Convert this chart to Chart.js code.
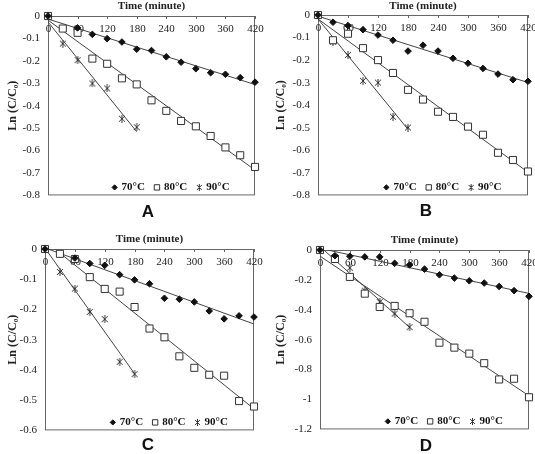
<!DOCTYPE html>
<html>
<head>
<meta charset="utf-8">
<script src="https://cdn.jsdelivr.net/npm/chart.js@4.4.1/dist/chart.umd.min.js"></script>
<style>
  body { margin: 0; background: #fff; width: 535px; height: 454px; position: relative; overflow: hidden; }
  canvas { position: absolute; }
  .tag { position: absolute; width: 40px; text-align: center; line-height: 20px;
         font: bold 17px 'Liberation Sans', Arial, sans-serif; color: #111; }
</style>
</head>
<body>
<canvas id="pA"></canvas>
<canvas id="pB"></canvas>
<canvas id="pC"></canvas>
<canvas id="pD"></canvas>
<script>
// sampling times (minutes)
const minutes = [0, 30, 60, 90, 120, 150, 180, 210, 240, 270, 300, 330, 360, 390, 420];
const minutes90 = [0, 30, 60, 90, 120, 150, 180];
const xTicks = [0, 60, 120, 180, 240, 300, 360, 420];
const seriesNames = ["70°C", "80°C", "90°C"];
const panelNames = ["A", "B", "C", "D"];
const yMins = [-0.8, -0.8, -0.6, -1.2];
const ySteps = [0.1, 0.1, 0.1, 0.2];

// Ln(C/C0)
const a70 = [0, null, -0.053, -0.082, -0.101, -0.116, -0.148, -0.154, -0.182, -0.206, -0.235, -0.253, -0.26, -0.275, -0.295];
const a80 = [0, -0.056, -0.075, -0.19, -0.213, -0.278, -0.305, -0.376, -0.423, -0.468, -0.492, -0.535, -0.586, -0.621, -0.673];
const a90 = [0, -0.123, -0.197, -0.301, -0.323, -0.458, -0.496];

const b70 = [0, -0.032, -0.047, -0.065, -0.089, -0.112, -0.16, -0.134, -0.16, -0.192, -0.214, -0.237, -0.262, -0.287, -0.294];
const b80 = [0, -0.112, -0.083, -0.147, -0.2, -0.257, -0.332, -0.375, -0.429, -0.452, -0.495, -0.531, -0.611, -0.643, -0.694];
const b90 = [0, -0.118, -0.177, -0.292, -0.3, -0.451, -0.499];

const c70 = [0, null, -0.03, -0.048, -0.054, -0.085, -0.102, -0.115, -0.163, -0.166, -0.175, -0.205, -0.231, -0.221, -0.225];
const c80 = [0, -0.016, -0.033, -0.093, -0.132, -0.141, -0.192, -0.263, -0.292, -0.355, -0.393, -0.416, -0.419, -0.503, -0.521];
const c90 = [0, -0.076, -0.131, -0.208, -0.232, -0.373, -0.414];

const d70 = [0, -0.038, -0.042, -0.046, -0.046, -0.089, -0.1, -0.128, -0.166, -0.188, -0.206, -0.221, -0.244, -0.272, -0.31];
const d80 = [0, -0.06, -0.18, -0.292, -0.381, -0.374, -0.423, -0.48, -0.62, -0.653, -0.693, -0.757, -0.866, -0.861, -0.985];
const d90 = [0, -0.05, -0.119, -0.272, -0.348, -0.425, -0.516];

const panelData = [[a70, a80, a90], [b70, b80, b90], [c70, c80, c90], [d70, d80, d90]];
const panelTimes = [minutes, minutes, minutes90];

// where each panel sits on the page (canvas box + plot area inside it)
const boxes = [
  { left: 0,   top: 0,   w: 267, h: 210, area: [48, 16, 255, 197], tag: [148, 212] },
  { left: 268, top: 0,   w: 267, h: 210, area: [50, 15, 260, 198], tag: [426, 211] },
  { left: 0,   top: 233, w: 267, h: 212, area: [45, 16, 254, 200], tag: [148, 445] },
  { left: 268, top: 234, w: 267, h: 210, area: [52, 16, 261, 197], tag: [426, 446] }
];

Chart.defaults.font.family = "'Liberation Serif', 'Times New Roman', serif";
Chart.defaults.color = "#222";

function starMark(size) {
  const c = document.createElement("canvas");
  c.width = c.height = size;
  const g = c.getContext("2d");
  g.strokeStyle = "#333";
  g.lineWidth = 1;
  g.beginPath();
  g.moveTo(1, 1); g.lineTo(size - 1, size - 1);
  g.moveTo(size - 1, 1); g.lineTo(1, size - 1);
  g.moveTo(size / 2, 0); g.lineTo(size / 2, size);
  g.stroke();
  return c;
}

const marks = [
  { pointStyle: "rectRot", radius: 3.3, bg: "#111", border: "#111" },
  { pointStyle: "rect", radius: 5, bg: "#fff", border: "#333" },
  { pointStyle: starMark(8), radius: 4, bg: "#333", border: "#333" }
];
const legendMarks = [
  { pointStyle: "rectRot", radius: 2.6, bg: "#111", border: "#111" },
  { pointStyle: "rect", radius: 3.8, bg: "#fff", border: "#333" },
  { pointStyle: starMark(7), radius: 3.5, bg: "#333", border: "#333" }
];

// least squares line, like the spreadsheet trendline
function fit(xs, ys) {
  let n = 0, sx = 0, sy = 0, sxx = 0, sxy = 0;
  xs.forEach((x, i) => {
    const y = ys[i];
    if (y === null) return;
    n++; sx += x; sy += y; sxx += x * x; sxy += x * y;
  });
  const m = (n * sxy - sx * sy) / (n * sxx - sx * sx);
  return { m: m, b: (sy - m * sx) / n };
}

const frame = {
  id: "frame",
  beforeDatasetsDraw(chart) {
    const { ctx, chartArea: a, scales } = chart;
    ctx.save();
    ctx.strokeStyle = "#666";
    ctx.lineWidth = 1;
    ctx.strokeRect(a.left + 0.5, a.top + 0.5, a.width - 1, a.height - 1);
    // time labels sit just under the top axis line
    ctx.font = "11px 'Liberation Serif'";
    ctx.fillStyle = "#222";
    ctx.textAlign = "center";
    ctx.textBaseline = "middle";
    xTicks.forEach(v => {
      const px = Math.round(scales.x.getPixelForValue(v)) + 0.5;
      ctx.beginPath();
      ctx.moveTo(px, a.top);
      ctx.lineTo(px, a.top + 3);
      ctx.stroke();
      ctx.fillText(String(v), px, a.top + 13);
    });
    ctx.restore();
  }
};

const inLegend = {
  id: "inLegend",
  afterDatasetsDraw(chart) {
    const { ctx, chartArea: a } = chart;
    ctx.save();
    ctx.font = "bold 11px 'Liberation Serif'";
    const widths = seriesNames.map(s => ctx.measureText(s).width);
    const total = 4 + widths.reduce((s, w) => s + 7 + w, 0) + 2 * 12;
    let x = a.left + a.width * 0.59 - total / 2 + 4;
    const y = a.bottom - 8;
    seriesNames.forEach((s, i) => {
      const mk = legendMarks[i];
      ctx.fillStyle = mk.bg;
      ctx.strokeStyle = mk.border;
      ctx.lineWidth = 1;
      Chart.helpers.drawPoint(ctx, { pointStyle: mk.pointStyle, radius: mk.radius, rotation: 0, borderWidth: 1 }, x, y);
      ctx.fillStyle = "#111";
      ctx.textAlign = "left";
      ctx.textBaseline = "middle";
      ctx.fillText(s, x + 7, y);
      x += 7 + widths[i] + 12;
    });
    ctx.restore();
  }
};

panelNames.forEach((name, p) => {
  const box = boxes[p];
  const cv = document.getElementById("p" + name);
  cv.width = box.w;
  cv.height = box.h;
  cv.style.left = box.left + "px";
  cv.style.top = box.top + "px";

  const tag = document.createElement("div");
  tag.className = "tag";
  tag.textContent = name;
  tag.style.left = (box.tag[0] - 20) + "px";
  tag.style.top = (box.tag[1] - 10) + "px";
  document.body.appendChild(tag);

  const datasets = [];
  panelData[p].forEach((ys, s) => {
    const xs = panelTimes[s];
    const t = fit(xs, ys);
    const xEnd = xs[xs.length - 1];
    datasets.push({
      type: "line",
      label: seriesNames[s] + " fit",
      data: [{ x: 0, y: t.b }, { x: xEnd, y: t.b + t.m * xEnd }],
      borderColor: "#444",
      borderWidth: 1,
      pointRadius: 0,
      order: 2
    });
    datasets.push({
      type: "scatter",
      label: seriesNames[s],
      data: xs.map((x, i) => ({ x: x, y: ys[i] })).filter(d => d.y !== null),
      pointStyle: marks[s].pointStyle,
      pointRadius: marks[s].radius,
      pointBackgroundColor: marks[s].bg,
      pointBorderColor: marks[s].border,
      pointBorderWidth: 1,
      clip: false,
      order: 1
    });
  });

  const [l, t, r, b] = box.area;
  new Chart(cv, {
    type: "scatter",
    data: { datasets: datasets },
    plugins: [frame, inLegend],
    options: {
      responsive: false,
      animation: false,
      layout: { padding: { left: 0, top: 0, right: box.w - r, bottom: box.h - b } },
      plugins: { legend: { display: false }, tooltip: { enabled: false } },
      scales: {
        x: {
          type: "linear",
          position: "top",
          min: 0,
          max: 420,
          ticks: { display: false },
          grid: { display: false, drawTicks: false },
          border: { display: false },
          title: {
            display: true,
            text: "Time (minute)",
            color: "#222",
            font: { size: 11, weight: "bold" },
            padding: { top: 0, bottom: 0 }
          },
          afterFit: s => { s.height = t; }
        },
        y: {
          type: "linear",
          min: yMins[p],
          max: 0,
          ticks: {
            stepSize: ySteps[p],
            padding: 8,
            font: { size: 11 },
            color: "#222",
            callback: v => String(Math.round(v * 10) / 10)
          },
          grid: { display: false, drawTicks: false },
          border: { display: false },
          title: {
            display: true,
            text: "Ln (C/C₀)",
            color: "#222",
            font: { size: 12, weight: "bold" },
            padding: { top: 6, bottom: 0 }
          },
          afterFit: s => { s.width = l; }
        }
      }
    }
  });
});
</script>
</body>
</html>
